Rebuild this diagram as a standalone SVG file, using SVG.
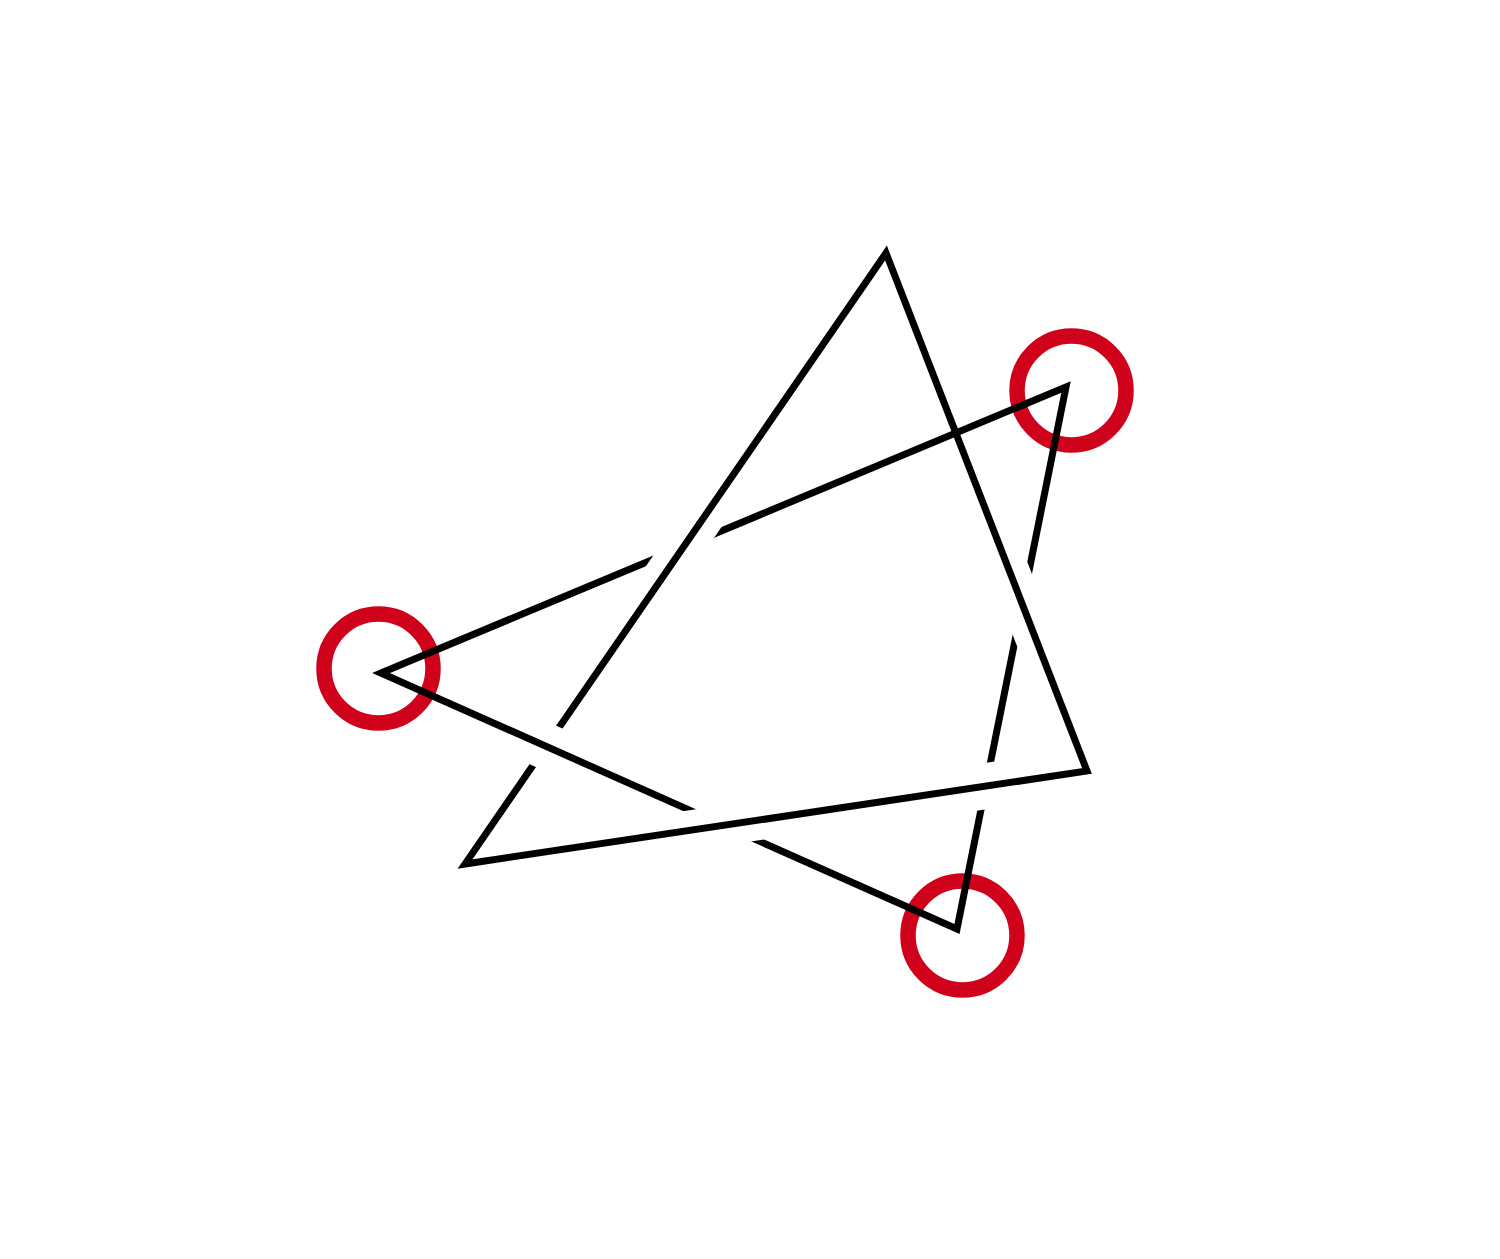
<svg xmlns="http://www.w3.org/2000/svg" width="1500" height="1259" viewBox="0 0 1500 1259">
<style>
.ring{fill:none;stroke:#d0011b;stroke-width:15.5}
.ln{fill:none;stroke:#000;stroke-width:7;stroke-linejoin:miter;stroke-miterlimit:20}
.cut{fill:none;stroke:#000;stroke-linecap:butt}
</style>
<defs>
<mask id="gaps-b" maskUnits="userSpaceOnUse" x="0" y="0" width="1500" height="1259">
<rect width="1500" height="1259" fill="#fff"/>
<line class="cut" stroke-width="40" x1="711.9" y1="505.7" x2="655.1" y2="588.1"/>
<line class="cut" stroke-width="40" x1="773.2" y1="817.9" x2="674.3" y2="832.7"/>
<line class="cut" stroke-width="40" x1="1004.2" y1="557.7" x2="1040.4" y2="650.9"/>
<line class="cut" stroke-width="46" x1="1035.2" y1="778.7" x2="936.3" y2="793.5"/>
</mask>
<mask id="gaps-a" maskUnits="userSpaceOnUse" x="0" y="0" width="1500" height="1259">
<rect width="1500" height="1259" fill="#fff"/>
<line class="cut" stroke-width="46" x1="500.4" y1="726.1" x2="591.8" y2="766.7"/>
</mask>
</defs>
<rect width="1500" height="1259" fill="#fff"/>
<g id="node-left"><circle class="ring" cx="378.5" cy="668.5" r="54.5"/></g>
<g id="node-top-right"><circle class="ring" cx="1071.5" cy="390.5" r="54.5"/></g>
<g id="node-bottom"><circle class="ring" cx="962.5" cy="935.5" r="54.5"/></g>
<g id="connectors">
<polygon id="triangle-b" class="ln" points="381,673 1066,387 957,929" mask="url(#gaps-b)"/>
<polygon id="triangle-a" class="ln" points="886,253 1087,771 465,864" mask="url(#gaps-a)"/>
</g>
</svg>
